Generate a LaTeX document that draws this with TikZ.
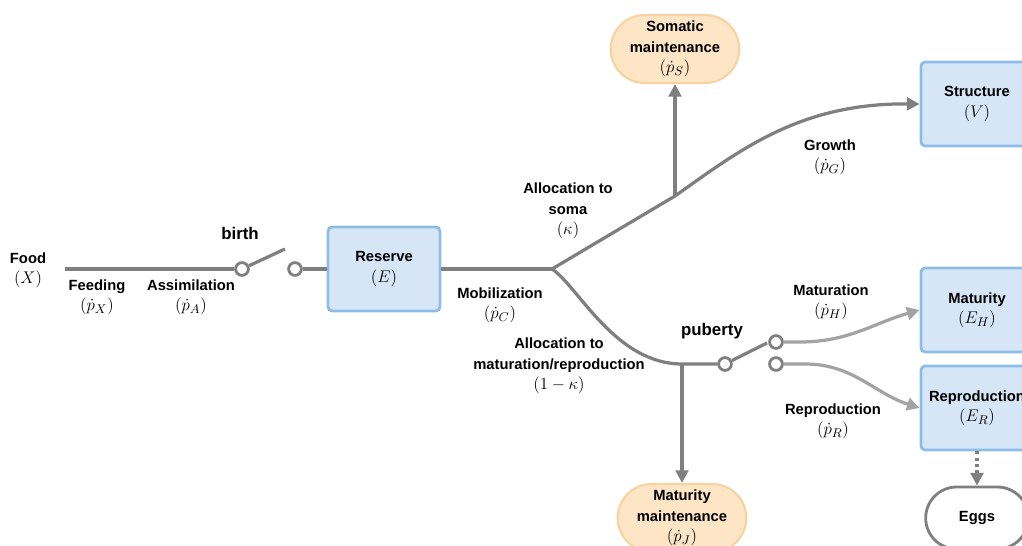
\documentclass[tikz,border=0pt]{standalone}
\usepackage{fontspec}
\setmainfont{Liberation Sans}
\usetikzlibrary{arrows.meta,shapes.misc}
\definecolor{boxblue}{HTML}{D6E6F6}
\definecolor{edgeblue}{HTML}{8DBDE6}
\definecolor{boxorange}{HTML}{FDE5C6}
\definecolor{edgeorange}{HTML}{F8D3A2}
\definecolor{flowgray}{HTML}{7F7F7F}
\definecolor{palegray}{HTML}{A3A3A3}
\newcommand{\mq}[1]{{\fontsize{12.5}{14.5}\selectfont$#1$}}
\tikzset{
  txt/.style={font=\fontsize{10.5}{14.5}\selectfont\bfseries, align=center},
  store/.style={txt, draw=edgeblue, fill=boxblue, line width=2pt, rounded corners=3pt,
    minimum width=2.8cm, minimum height=2.1cm},
  upkeep/.style={txt, rounded rectangle, draw=edgeorange, fill=boxorange, line width=1.5pt,
    minimum width=3.1cm, minimum height=1.7cm},
  flow/.style={draw=flowgray, line width=2.3pt},
  flowtip/.style={flow, -{Triangle[length=9pt,width=9pt]}},
  switch/.style={circle, draw=flowgray, fill=white, line width=2pt, minimum size=0.32cm, inner sep=0pt}
}
\begin{document}
\begin{tikzpicture}[x=0.025cm,y=-0.025cm]
\useasboundingbox (0,0) rectangle (1022,546);
\clip (0,0) rectangle (1022,546);
% boxes
\node[store] (reserve) at (384,269) {Reserve\\\mq{(E)}};
\node[store] (structure) at (977,104) {Structure\\\mq{(V)}};
\node[store] (maturity) at (977,310) {Maturity\\\mq{(E_H)}};
\node[store] (repro) at (977,408) {Reproduction\\\mq{(E_R)}};
\node[upkeep] (somatic) at (675,49) {Somatic\\maintenance\\\mq{(\dot p_S)}};
\node[upkeep] (matmaint) at (682,518) {Maturity\\maintenance\\\mq{(\dot p_J)}};
\node[txt, rounded rectangle, draw=flowgray, fill=white, line width=2pt,
  minimum width=2.8cm, minimum height=1.55cm] (eggs) at (977,518) {Eggs};
% labels
\node[txt] (food) at (28,270) {Food\\\mq{(X)}};
\node[txt] (feeding) at (97,297) {Feeding\\\mq{(\dot p_X)}};
\node[txt] (assim) at (191,297) {Assimilation\\\mq{(\dot p_A)}};
\node[txt, font=\fontsize{12}{14}\selectfont\bfseries] (birth) at (240,233) {birth};
\node[txt] (mobil) at (500,305) {Mobilization\\\mq{(\dot p_C)}};
\node[txt] (tosoma) at (568,211) {Allocation to\\soma\\\mq{(\kappa)}};
\node[txt] (tomat) at (559,366) {Allocation to\\maturation/reproduction\\\mq{(1-\kappa)}};
\node[txt, font=\fontsize{12}{14}\selectfont\bfseries] (puberty) at (712,331) {puberty};
\node[txt] (growth) at (830,157) {Growth\\\mq{(\dot p_G)}};
\node[txt] (matur) at (831,302) {Maturation\\\mq{(\dot p_H)}};
\node[txt] (reprolbl) at (833,421) {Reproduction\\\mq{(\dot p_R)}};
% switches
\node[switch] (b1) at (242,269) {};
\node[switch] (b2) at (295,269) {};
\node[switch] (p1) at (725,364) {};
\node[switch] (p2) at (776,342) {};
\node[switch] (p3) at (776,364) {};
\coordinate (start) at (65,269);
\coordinate (blever) at (285,249);
\coordinate (plever) at (767,343);
\coordinate (branch) at (552,269);
\coordinate (fork) at (675,196);
\coordinate (corner) at (682,364);
% flows
\draw[flow] (start) -- (b1.west);
\draw[flow] (b1) -- (blever);
\draw[flow] (b2.east) -- (reserve.west);
\draw[flow] (reserve.east) -- (branch);
\draw[flowtip] (branch) -- (fork) .. controls (740,150) and (800,103) .. (structure.west);
\draw[flowtip] (fork) -- (somatic.south);
\draw[flow] (branch) .. controls (578,286) and (615,364) .. (corner) -- (p1.west);
\draw[flowtip] (corner) -- (matmaint.north);
\draw[flow] (p1) -- (plever);
\draw[flowtip, draw=palegray] (p2.east) -- (800,342) to[out=0,in=196] (maturity.west);
\draw[flowtip, draw=palegray] (p3.east) -- (805,364) to[out=0,in=162] (repro.west);
\draw[flowtip, dash pattern=on 2pt off 2.5pt] (repro.south) -- (eggs.north);
\end{tikzpicture}
\end{document}
